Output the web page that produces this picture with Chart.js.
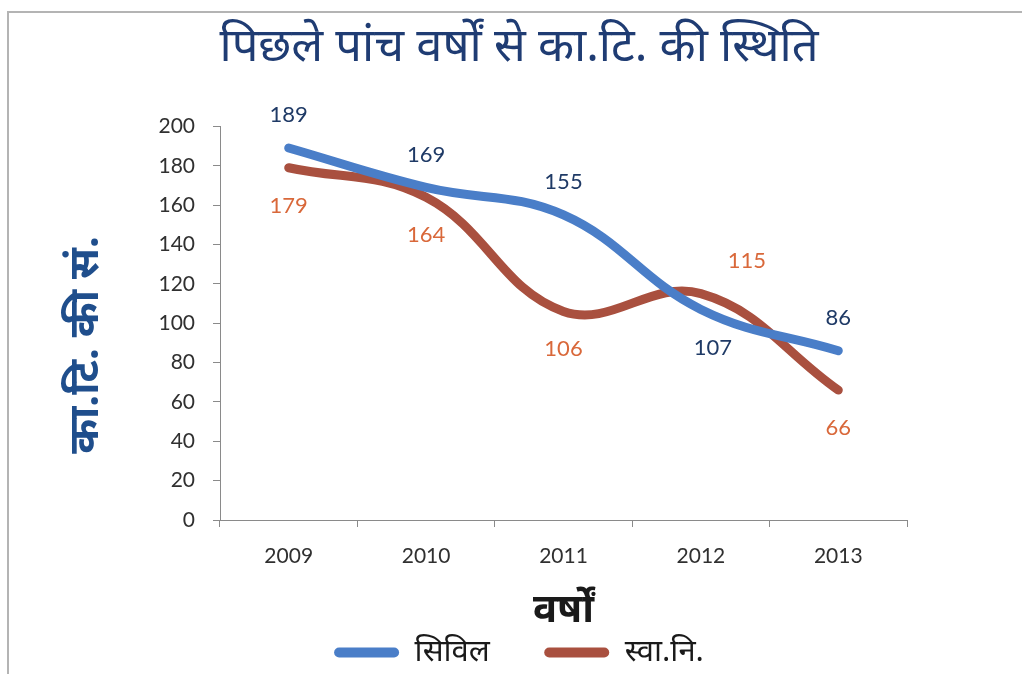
<!DOCTYPE html>
<html>
<head>
<meta charset="utf-8">
<script src="https://cdn.jsdelivr.net/npm/chart.js@4"></script>
<style>
    html, body { margin: 0; padding: 0; background: #fff; }
    #wrap { width: 1022px; height: 674px; position: relative; }
</style>
</head>
<body>
<div id="wrap"><canvas id="chart" width="1022" height="674"></canvas></div>
<script>
const years = ['2009', '2010', '2011', '2012', '2013'];
const civil = [189, 169, 155, 107, 86];
const swaNi = [179, 164, 106, 115, 66];
const yTicks = [0, 20, 40, 60, 80, 100, 120, 140, 160, 180, 200];

// where each value label sits relative to its point (style only)
const civilLabelPos = ['above', 'above', 'above', 'below', 'above'];
const swaNiLabelPos = ['below', 'below', 'below', 'above', 'below'];
const civilLabelShift = [0, 0, 0, 12, 0];
const swaNiLabelShift = [0, 0, 0, 46, 0];

const HINDI = "'Noto Sans', 'Noto Sans Devanagari', Lato, sans-serif";
const NUM = "Lato, 'Noto Sans', sans-serif";

// frame line on the left and top
const framePlugin = {
    id: 'frame',
    beforeDraw(chart) {
        const ctx = chart.ctx;
        ctx.save();
        ctx.fillStyle = '#fff';
        ctx.fillRect(0, 0, chart.width, chart.height);
        ctx.strokeStyle = '#b4b4b4';
        ctx.lineWidth = 2;
        ctx.beginPath();
        ctx.moveTo(8, chart.height);
        ctx.lineTo(8, 12);
        ctx.lineTo(chart.width, 12);
        ctx.stroke();
        ctx.restore();
    }
};

const valueLabels = {
    id: 'valueLabels',
    afterDatasetsDraw(chart) {
        const ctx = chart.ctx;
        ctx.save();
        ctx.font = '22px ' + NUM;
        ctx.textAlign = 'center';
        ctx.textBaseline = 'middle';
        chart.data.datasets.forEach((ds, i) => {
            const meta = chart.getDatasetMeta(i);
            ctx.fillStyle = ds.labelColor;
            meta.data.forEach((pt, j) => {
                const dy = ds.labelPos[j] === 'above' ? -33 : 38;
                ctx.fillText(String(ds.data[j]), pt.x + ds.labelShift[j], pt.y + dy);
            });
        });
        ctx.restore();
    }
};

new Chart(document.getElementById('chart'), {
    type: 'line',
    data: {
        labels: years,
        datasets: [
            {
                label: 'सिविल',
                data: civil,
                borderColor: '#4a7ec8',
                backgroundColor: '#4a7ec8',
                borderWidth: 9,
                borderCapStyle: 'round',
                tension: 0.4,
                pointRadius: 0,
                labelColor: '#1f3a66',
                labelPos: civilLabelPos,
                labelShift: civilLabelShift
            },
            {
                label: 'स्वा.नि.',
                data: swaNi,
                borderColor: '#a9503f',
                backgroundColor: '#a9503f',
                borderWidth: 9,
                borderCapStyle: 'round',
                tension: 0.4,
                pointRadius: 0,
                labelColor: '#d9683a',
                labelPos: swaNiLabelPos,
                labelShift: swaNiLabelShift
            }
        ]
    },
    options: {
        responsive: false,
        animation: false,
        layout: { padding: { left: 16, right: 0, top: 4, bottom: -4 } },
        plugins: {
            title: {
                display: true,
                text: 'पिछले पांच वर्षों से का.टि. की स्थिति',
                color: '#1f3c73',
                font: { family: HINDI, size: 47, weight: 'normal' },
                padding: { top: 15, bottom: 51 }
            },
            legend: {
                position: 'bottom',
                labels: {
                    color: '#1a1a1a',
                    font: { family: HINDI, size: 31 },
                    boxWidth: 65,
                    boxHeight: 10,
                    useBorderRadius: true,
                    borderRadius: 5,
                    padding: 6,
                    generateLabels(chart) {
                        return chart.data.datasets.map((ds, i) => ({
                            // extra gap after the first entry
                            text: i === 0 ? ds.label + '      ' : ds.label,
                            fillStyle: ds.borderColor,
                            strokeStyle: ds.borderColor,
                            lineWidth: 0,
                            borderRadius: 5,
                            datasetIndex: i,
                            fontColor: '#1a1a1a'
                        }));
                    }
                }
            },
            tooltip: { enabled: false }
        },
        scales: {
            x: {
                offset: true,
                afterFit(axis) { axis.height = 111; },
                grid: {
                    display: true,
                    offset: true,
                    drawOnChartArea: false,
                    drawTicks: true,
                    tickLength: 7,
                    color: '#8a8a8a'
                },
                border: { color: '#8a8a8a', width: 1 },
                ticks: { color: '#303030', font: { family: NUM, size: 21 }, padding: 17 },
                title: {
                    display: true,
                    text: 'वर्षों',
                    color: '#1a1a1a',
                    font: { family: HINDI, size: 40, weight: 'bold' },
                    padding: { top: 0, bottom: -4 }
                }
            },
            y: {
                min: 0,
                max: 200,
                afterFit(axis) { axis.width = 204; },
                afterBuildTicks(axis) {
                    axis.ticks = yTicks.map(v => ({ value: v }));
                },
                grid: {
                    display: true,
                    drawOnChartArea: false,
                    drawTicks: true,
                    tickLength: 7,
                    color: '#8a8a8a'
                },
                border: { color: '#8a8a8a', width: 1 },
                ticks: { color: '#303030', font: { family: NUM, size: 21 }, padding: 18 },
                title: {
                    display: true,
                    text: 'का.टि. की सं.    ',
                    color: '#1f4e8c',
                    font: { family: HINDI, size: 42, weight: 'bold' },
                    padding: { top: 45, bottom: 0 }
                }
            },
            // empty right-hand axis that only reserves the margin
            yRight: {
                position: 'right',
                display: true,
                afterFit(axis) { axis.width = 115; },
                grid: { display: false },
                border: { display: false },
                ticks: { display: false }
            }
        }
    },
    plugins: [framePlugin, valueLabels]
});
</script>
</body>
</html>
